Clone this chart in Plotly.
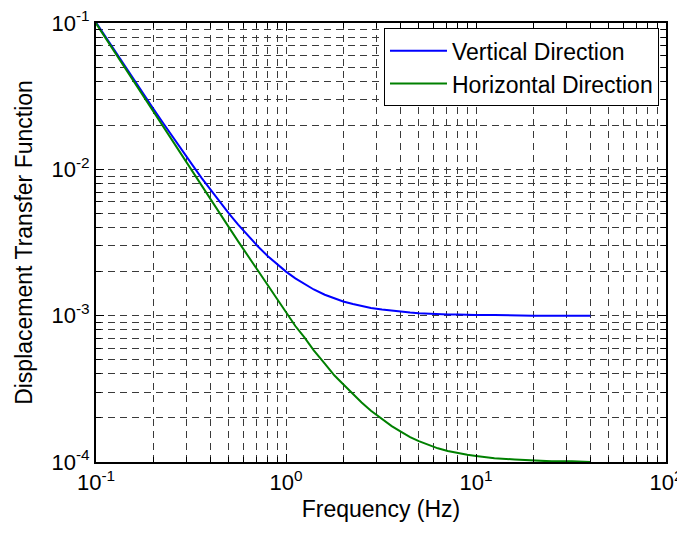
import plotly.graph_objects as go

freq = [0.1, 0.11, 0.125, 0.14, 0.16, 0.18, 0.2, 0.225, 0.25, 0.28, 0.32, 0.36, 0.4, 0.45,
        0.5, 0.56, 0.63, 0.71, 0.8, 0.9, 1.0, 1.12, 1.25, 1.4, 1.6, 1.8, 2.0, 2.25, 2.5, 2.8,
        3.2, 3.6, 4.0, 4.5, 5.0, 5.6, 6.3, 7.1, 8.0, 9.0, 10.0, 12.5, 16.0, 20.0, 25.0, 32.0, 40.0]

vertical = [0.101, 0.0836, 0.065, 0.052, 0.0401, 0.0319, 0.026, 0.0208, 0.017, 0.0138,
            0.0108, 0.00872, 0.00725, 0.00594, 0.005, 0.00419, 0.00352, 0.00298, 0.00256,
            0.00223, 0.002, 0.0018, 0.00164, 0.00151, 0.00139, 0.00131, 0.00125, 0.0012,
            0.00116, 0.00113, 0.0011, 0.00108, 0.00106, 0.00105, 0.00104, 0.00103, 0.00103,
            0.00102, 0.00102, 0.00101, 0.00101, 0.00101, 0.001, 0.001, 0.001, 0.001, 0.001]

horizontal = [0.0995, 0.0822, 0.0637, 0.0507, 0.0389, 0.0307, 0.0249, 0.0197, 0.0159, 0.0127,
              0.00975, 0.00772, 0.00626, 0.00496, 0.00403, 0.00322, 0.00256, 0.00203, 0.00161,
              0.00128, 0.00104, 0.00085, 0.00071, 0.00058, 0.00047, 0.00039, 0.00034, 0.00029,
              0.000255, 0.000224, 0.000196, 0.000176, 0.000162, 0.000148, 0.000139, 0.000131,
              0.000124, 0.000119, 0.000115, 0.000112, 0.00011, 0.000106, 0.000104, 0.000102,
              0.000101, 0.000101, 0.0001]

x_ticks = [0.1, 1, 10, 100]
x_ticktext = ["10<sup>-1</sup>", "10<sup>0</sup>", "10<sup>1</sup>", "10<sup>2</sup>"]
y_ticks = [1e-4, 1e-3, 1e-2, 1e-1]
y_ticktext = ["10<sup>-4</sup>", "10<sup>-3</sup>", "10<sup>-2</sup>", "10<sup>-1</sup>"]

x_minor = [m * 10 ** e for e in (-1, 0, 1) for m in range(2, 10)]
y_minor = [m * 10 ** e for e in (-4, -3, -2) for m in range(2, 10)]

fig = go.Figure()
fig.add_trace(go.Scatter(x=freq, y=vertical, mode="lines", name="Vertical Direction",
                         line=dict(color="#0000FF", width=2)))
fig.add_trace(go.Scatter(x=freq, y=horizontal, mode="lines", name="Horizontal Direction",
                         line=dict(color="#008000", width=2)))

grid_color = "#3a3a3a"
font = "Liberation Sans, Arial, sans-serif"
dash = "7px,5px"

axis_common = dict(
    type="log", showline=True, linecolor="black", linewidth=2, mirror="allticks",
    ticks="inside", ticklen=8, tickcolor="black", tickwidth=1,
    showgrid=True, gridcolor=grid_color, gridwidth=1, griddash=dash,
    tickfont=dict(family=font, size=22, color="black"),
    zeroline=False, automargin=False, ticklabeloverflow="allow",
)

fig.update_xaxes(
    **axis_common, range=[-1, 2], tickvals=x_ticks, ticktext=x_ticktext,
    title=dict(text="Frequency (Hz)", font=dict(family=font, size=23, color="black"), standoff=6),
    minor=dict(tickvals=x_minor, ticks="inside", ticklen=5, tickcolor="black",
               showgrid=True, gridcolor=grid_color, gridwidth=1, griddash=dash),
)
fig.update_yaxes(
    **axis_common, range=[-4, -1], tickvals=y_ticks, ticktext=y_ticktext,
    title=dict(text="Displacement Transfer Function", font=dict(family=font, size=23, color="black"), standoff=12),
    minor=dict(tickvals=y_minor, ticks="inside", ticklen=5, tickcolor="black",
               showgrid=True, gridcolor=grid_color, gridwidth=1, griddash=dash),
)

# the page body adds an ~8px offset, so the figure is sized/margined to land the plot area
# at the reference position inside the 685x535 window
fig.update_layout(
    width=677, height=527,
    margin=dict(l=88, r=19, t=15, b=73),
    paper_bgcolor="white", plot_bgcolor="white",
    font=dict(family=font, color="black"),
    showlegend=True,
    legend=dict(x=0.9877, y=0.988, xanchor="right", yanchor="top",
                bgcolor="white", bordercolor="black", borderwidth=1,
                font=dict(family=font, size=23, color="black"),
                tracegroupgap=0, itemwidth=57),
)

fig.write_html("out.html")
